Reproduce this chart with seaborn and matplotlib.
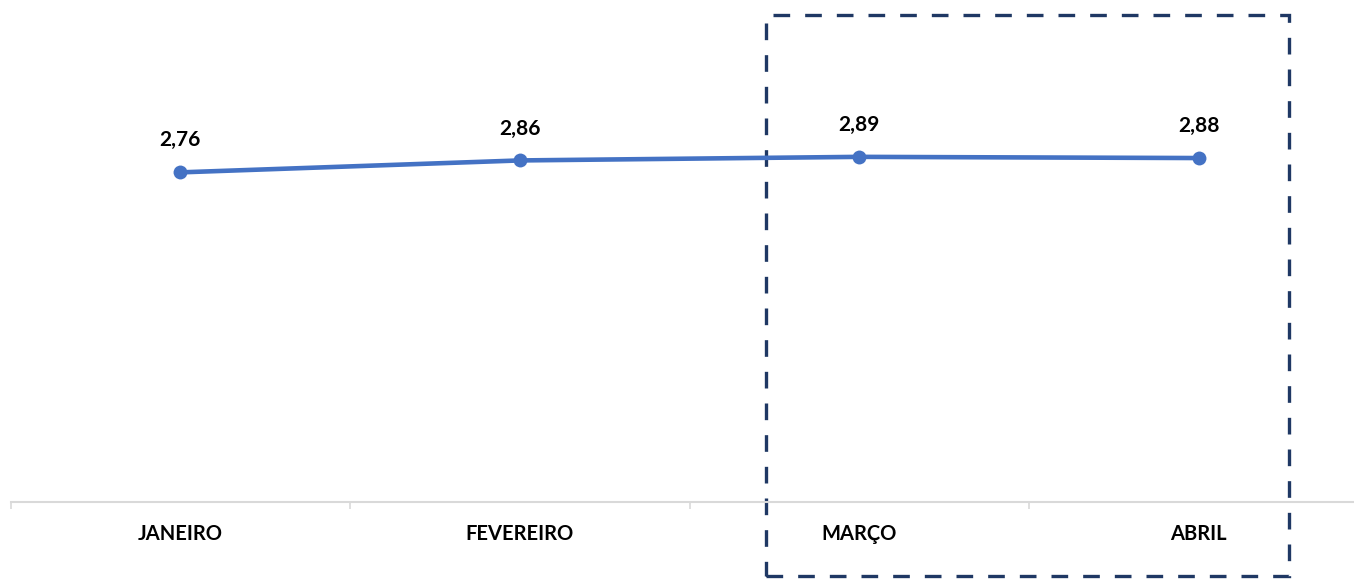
import pandas as pd
import seaborn as sns
import matplotlib.pyplot as plt
from matplotlib.patches import Rectangle
from matplotlib.ticker import FixedLocator

months = ["JANEIRO", "FEVEREIRO", "MARÇO", "ABRIL"]
values = [2.76, 2.86, 2.89, 2.88]
labels = ["2,76", "2,86", "2,89", "2,88"]

df = pd.DataFrame({"mes": months, "valor": values})

sns.set_style("white")
plt.rcParams['font.family'] = ['Lato', 'DejaVu Sans']

fig = plt.figure(figsize=(13.54, 5.79), dpi=100)
ax = fig.add_axes([10.5 / 1354, 77 / 579, 1358 / 1354, 418 / 579])

sns.lineplot(df, x="mes", y="valor", sort=False, ax=ax, color="#4472C4",
             linewidth=3.3, marker="o", markersize=10, markeredgewidth=0)

for i, (v, t) in enumerate(zip(values, labels)):
    ax.annotate(t, (i, v), xytext=(0, 23), textcoords="offset points",
                ha="center", va="center", fontsize=15, fontweight="bold",
                color="black")

ax.set_xlim(-0.5, 3.5)
ax.set_ylim(0, 3.5)
ax.set_xlabel("")
ax.set_ylabel("")
ax.set_yticks([])
for s in ["top", "right", "left"]:
    ax.spines[s].set_visible(False)
ax.spines["bottom"].set_color("#d9d9d9")
ax.spines["bottom"].set_linewidth(1.5)

ax.set_xticks(range(len(months)))
ax.set_xticklabels(months, fontsize=14.5, fontweight="bold", color="black")
ax.tick_params(axis="x", which="major", bottom=True, length=0, pad=16)
ax.xaxis.set_minor_locator(FixedLocator([-0.5, 0.5, 1.5, 2.5, 3.5]))
ax.tick_params(axis="x", which="minor", bottom=True, length=5, width=1.2,
               color="#d9d9d9")

# destaque março-abril
box = Rectangle((1.725, -0.62), 1.54, 4.695, fill=False, edgecolor="#1F3864",
                linewidth=2.4, linestyle=(0, (5, 4.5)), clip_on=False)
ax.add_patch(box)

fig.savefig("out.png", dpi=100)
